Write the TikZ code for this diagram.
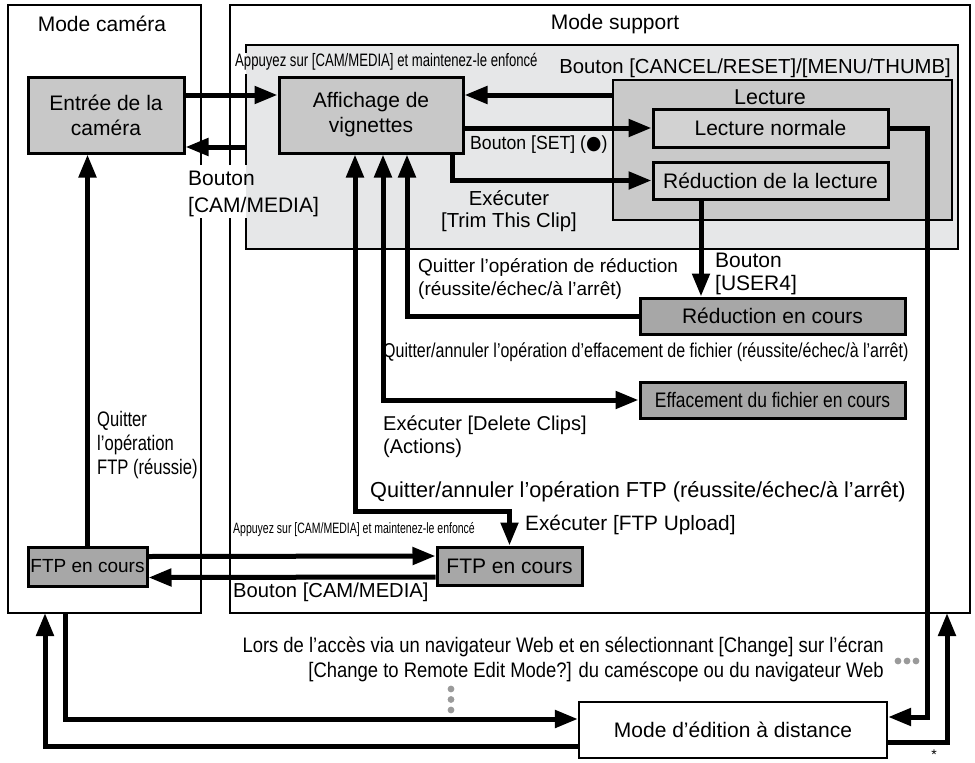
\documentclass[tikz,border=0pt]{standalone}
\usepackage{fontspec}
\usepackage{graphicx}
\setmainfont{Liberation Sans}
\newfontfamily\symfont{DejaVu Sans}
\usetikzlibrary{arrows.meta}
\usetikzlibrary{positioning}
\definecolor{mediagray}{HTML}{E6E7E8}
\definecolor{boxgray}{HTML}{C8C8C8}
\definecolor{lecgray}{HTML}{C9C9C9}
\definecolor{ingray}{HTML}{D2D2D2}
\definecolor{dkgray}{HTML}{A7A7A7}
\definecolor{dotgray}{HTML}{9A9A9A}
\newcommand{\narrow}[2]{\scalebox{#1}[1]{#2}}
\newcommand{\fsz}[2]{\fontsize{#1}{#2}\selectfont}
\tikzset{lbl/.style = {inner sep=0, font=\fsz{21}{25}}}
\tikzset{grbox/.style = {draw, line width=3pt, fill=boxgray, inner sep=0, align=center, font=\fsz{21}{25}}}
\tikzset{dkbox/.style = {grbox, fill=dkgray}}
\tikzset{inbox/.style = {grbox, fill=ingray}}
\tikzset{frame/.style = {line width=2.2pt}}
\tikzset{arr/.style = {line width=5pt, -{Triangle[length=23pt,width=17pt]}}}
\tikzset{arrs/.style = {line width=5pt, {Triangle[length=23pt,width=17pt]}-{Triangle[length=23pt,width=17pt]}}}

\begin{document}
\begin{tikzpicture}[x=1pt,y=-1pt]
        \useasboundingbox (0,0) rectangle (975,763);
        % modes
        \draw [frame] (201,165) -- (201,5) -- (8,5) -- (8,613) -- (201,613) -- (201,218);
        \draw [frame] (230,165) -- (230,5) -- (970,5) -- (970,613) -- (230,613) -- (230,218);
        \fill [mediagray] (246,45) rectangle (958,249);
        \draw [frame] (246,53) -- (246,45) -- (958,45) -- (958,249) -- (246,249) -- (246,218);
        \draw [frame] (246,74) -- (246,165);
        \node [draw, line width=2.2pt, fill=lecgray, minimum width=339pt, minimum height=140pt] (lect) at (782.5,150) {};
        \node [lbl] (tcam) at (102,24) {Mode caméra};
        \node [lbl] (tsup) at (615,24) {Mode support};
        \node [lbl, font=\fsz{21.5}{25}] (tlect) at (770,97) {Lecture};
        % boxes
        \node [grbox, minimum width=156pt, minimum height=76pt] (entree) at (106,115) {Entrée de la\\caméra};
        \node [grbox, minimum width=184pt, minimum height=76pt] (affich) at (371,115) {Affichage de\\vignettes};
        \node [inbox, minimum width=235pt, minimum height=38pt] (lnorm) at (770.5,128) {Lecture normale};
        \node [inbox, minimum width=235pt, minimum height=37pt] (lred) at (770.5,180.5) {Réduction de la lecture};
        \node [dkbox, minimum width=265pt, minimum height=36pt] (redcours) at (772.5,316) {Réduction en cours};
        \node [dkbox, minimum width=265pt, minimum height=36pt] (effac) at (772.5,400) {\narrow{0.83}{Effacement du fichier en cours}};
        \node [dkbox, minimum width=145pt, minimum height=38pt] (ftps) at (509.5,566) {FTP en cours};
        \node [dkbox, minimum width=119pt, minimum height=39pt, font=\fsz{19}{23}] (ftpc) at (87.5,566.5) {FTP en cours};
        \node [draw, line width=2.2pt, fill=white, minimum width=308pt, minimum height=56pt, font=\fsz{21}{25}] (remote) at (733,730) {Mode d'édition à distance};
        % labels
        \node [lbl, anchor=west] (tapp) at (235,62) {\narrow{0.73}{\fsz{18}{20}Appuyez sur [CAM/MEDIA] et maintenez-le enfoncé}};
        \node [lbl, anchor=east, font=\fsz{20.3}{24}] (tcancel) at (951,68) {Bouton [CANCEL/RESET]/[MENU/THUMB]};
        \node [lbl, anchor=west, font=\fsz{19}{23}] (tset) at (470,145) {\narrow{0.93}{Bouton [SET] ({\symfont ●})}};
        \node [lbl, align=center, font=\fsz{20.3}{22}] (ttrim) at (509,211) {Exécuter\\{[}Trim This Clip]};
        \node [lbl, anchor=west, align=left, font=\fsz{21}{27}] (tbcam) at (188,193.5) {Bouton\\{[}CAM/MEDIA]};
        \node [lbl, anchor=west, align=left, font=\fsz{19}{23}] (tquitred) at (418,278.5) {Quitter l'opération de réduction\\(réussite/échec/à l'arrêt)};
        \node [lbl, anchor=west, align=left, font=\fsz{21}{23}] (tuser) at (715,273.5) {Bouton\\{[}USER4]};
        \node [lbl, anchor=west] (tquiteff) at (383,352) {\narrow{0.8}{\fsz{20}{24}Quitter/annuler l'opération d'effacement de fichier (réussite/échec/à l'arrêt)}};
        \node [lbl, anchor=west, align=left, font=\fsz{20}{23}] (tdel) at (383,436.5) {Exécuter [Delete Clips]\\(Actions)};
        \node [lbl, anchor=west, font=\fsz{21.7}{25}] (tquitftp) at (370,492) {Quitter/annuler l'opération FTP (réussite/échec/à l'arrêt)};
        \node [lbl, anchor=west, font=\fsz{20.8}{25}] (tftpup) at (525,525) {Exécuter [FTP Upload]};
        \node [lbl, anchor=west] (tapp2) at (233,530) {\narrow{0.7}{\fsz{15}{18}Appuyez sur [CAM/MEDIA] et maintenez-le enfoncé}};
        \node [lbl, anchor=west, font=\fsz{20.2}{24}] (tbcam2) at (233,592) {Bouton [CAM/MEDIA]};
        \node [lbl, anchor=west] (tquitftp2) at (97,445.5) {\narrow{0.79}{\fsz{21}{24}\begin{tabular}{@{}l@{}}Quitter\\l'opération\\FTP (réussie)\end{tabular}}};
        \node [lbl, anchor=east] (tweb) at (884,659.5) {\narrow{0.878}{\fsz{21}{25}\begin{tabular}{@{}r@{}}Lors de l'accès via un navigateur Web et en sélectionnant [Change] sur l'écran\\{[}Change to Remote Edit Mode?] du caméscope ou du navigateur Web\end{tabular}}};
        \node [lbl, font=\fsz{14}{16}] (tstar) at (934,755) {*};
        % gray dots
        \foreach \i in {0,1,2} {
            \fill [dotgray] (898+9*\i,661) circle [radius=3.4];
            \fill [dotgray] (451,689+10.5*\i) circle [radius=3.4];
        }
        % connectors
        \coordinate (mediaW) at (246,147);
        \coordinate (ftpturn) at (355,511);
        \coordinate (rx) at (927,0);
        \coordinate (supB) at (947,613);
        \coordinate (camB1) at (65,613);
        \coordinate (camB2) at (45,613);
        \draw [arr] ([yshift=20]entree.east) -- ([yshift=20]affich.west);
        \draw [arr] (mediaW) -- (entree.east |- mediaW);
        \draw [arr] ([yshift=55]lect.west) -- ([yshift=20]affich.east);
        \draw [arr] (affich.east |- lnorm) -- (lnorm.west);
        \draw [arr] ([xshift=81]affich.south) |- (lred.west);
        \draw [arr] ([xshift=-69.5]lred.south) coordinate (u4) -- (u4 |- redcours.north);
        \draw [arr] (redcours.west) -| ([xshift=36]affich.south);
        \draw [arrs] ([xshift=12]affich.south) |- (effac.west);
        \draw [arrs] ([xshift=-16]affich.south) -- (ftpturn) -| (ftps.north);
        \draw [arr] ([yshift=10]ftpc.east) -- ([yshift=10]ftps.west);
        \draw [arr] ([yshift=-11]ftps.west) -- ([yshift=-11]ftpc.east);
        \draw [arr] (ftpc.north) -- (ftpc.north |- entree.south);
        \draw [arr] (lnorm.east) -| ([yshift=13]remote.east -| rx) -- ([yshift=13]remote.east);
        \draw [arr] ([yshift=-12]remote.east) -| (supB);
        \draw [arr] (camB1) |- ([yshift=11]remote.west);
        \draw [arr] ([yshift=-16]remote.west) -| (camB2);
    \end{tikzpicture}
\end{document}
